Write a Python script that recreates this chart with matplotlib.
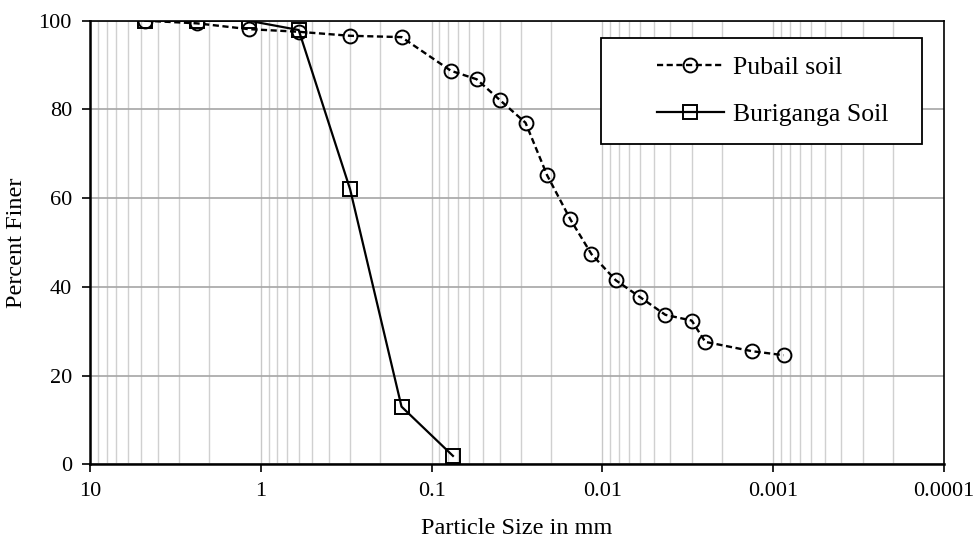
import matplotlib.pyplot as plt
from matplotlib.patches import Rectangle
from matplotlib.ticker import FixedLocator, LogLocator, NullFormatter

plt.rcParams['font.family'] = ['Liberation Serif', 'DejaVu Serif']

# Pubail soil (sieve + hydrometer)
pubail_size = [4.75, 2.36, 1.18, 0.60, 0.30, 0.15, 0.077, 0.0545, 0.0398,
               0.0282, 0.0211, 0.0154, 0.0116, 0.00836, 0.00603, 0.00428,
               0.00300, 0.00250, 0.00133, 0.00087]
pubail_finer = [100.0, 99.4, 98.1, 97.5, 96.6, 96.3, 88.7, 86.8, 82.1,
                77.0, 65.2, 55.2, 47.4, 41.5, 37.7, 33.7, 32.4, 27.6, 25.5, 24.6]

# Buriganga soil (sieve)
buri_size = [4.75, 2.36, 1.18, 0.60, 0.30, 0.15, 0.075]
buri_finer = [100.0, 100.0, 100.0, 97.9, 62.0, 13.0, 1.9]

x_ticks = [10, 1, 0.1, 0.01, 0.001, 0.0001]
x_labels = ['10', '1', '0.1', '0.01', '0.001', '0.0001']
y_ticks = [0, 20, 40, 60, 80, 100]

fig = plt.figure(figsize=(9.79, 5.43), dpi=100)
ax = fig.add_axes([0.0919, 0.1449, 0.8724, 0.8170])

ax.plot(pubail_size, pubail_finer, color='black', linestyle='--', dashes=(2.6, 1.5),
        linewidth=1.7, marker='o', markersize=10, markerfacecolor='none',
        markeredgewidth=1.4, label='Pubail soil', zorder=3)
ax.plot(buri_size, buri_finer, color='black', linestyle='-', linewidth=1.6,
        marker='s', markersize=9.5, markerfacecolor='none', markeredgewidth=1.4,
        label='Buriganga Soil', zorder=3)

ax.set_xscale('log')
ax.set_xlim(10, 0.0001)
ax.set_ylim(0, 100)

ax.xaxis.set_major_locator(FixedLocator(x_ticks))
ax.set_xticks(x_ticks)
ax.set_xticklabels(x_labels)
ax.xaxis.set_minor_locator(LogLocator(base=10, subs=range(2, 10), numticks=20))
ax.xaxis.set_minor_formatter(NullFormatter())
ax.set_yticks(y_ticks)

ax.grid(which='major', axis='y', color='#a6a6a6', linewidth=1.2)
ax.grid(which='major', axis='x', color='#c8c8c8', linewidth=1.0)
ax.grid(which='minor', axis='x', color='#d0d0d0', linewidth=1.0)
ax.set_axisbelow(True)

for side in ['left', 'bottom']:
    ax.spines[side].set_linewidth(1.8)
for side in ['top', 'right']:
    ax.spines[side].set_linewidth(1.2)

ax.tick_params(which='major', direction='out', length=6, width=1.2,
               labelsize=16, pad=7, top=False, right=False)
ax.tick_params(which='minor', length=0)

ax.set_xlabel('Particle Size in mm', fontsize=17.5, labelpad=12)
ax.set_ylabel('Percent Finer', fontsize=17.5, labelpad=8)

# legend frame drawn separately (wide left padding like the original)
ax.add_patch(Rectangle((0.598, 0.721), 0.376, 0.239, transform=ax.transAxes,
                       facecolor='white', edgecolor='black', linewidth=1.3,
                       zorder=4))
leg = ax.legend(loc='upper left', bbox_to_anchor=(0.664, 0.921), fontsize=18.5,
                frameon=False, borderpad=0, labelspacing=0.95,
                handlelength=2.6, handletextpad=0.35, borderaxespad=0)
leg.set_zorder(5)

fig.savefig('out.png', dpi=100)
